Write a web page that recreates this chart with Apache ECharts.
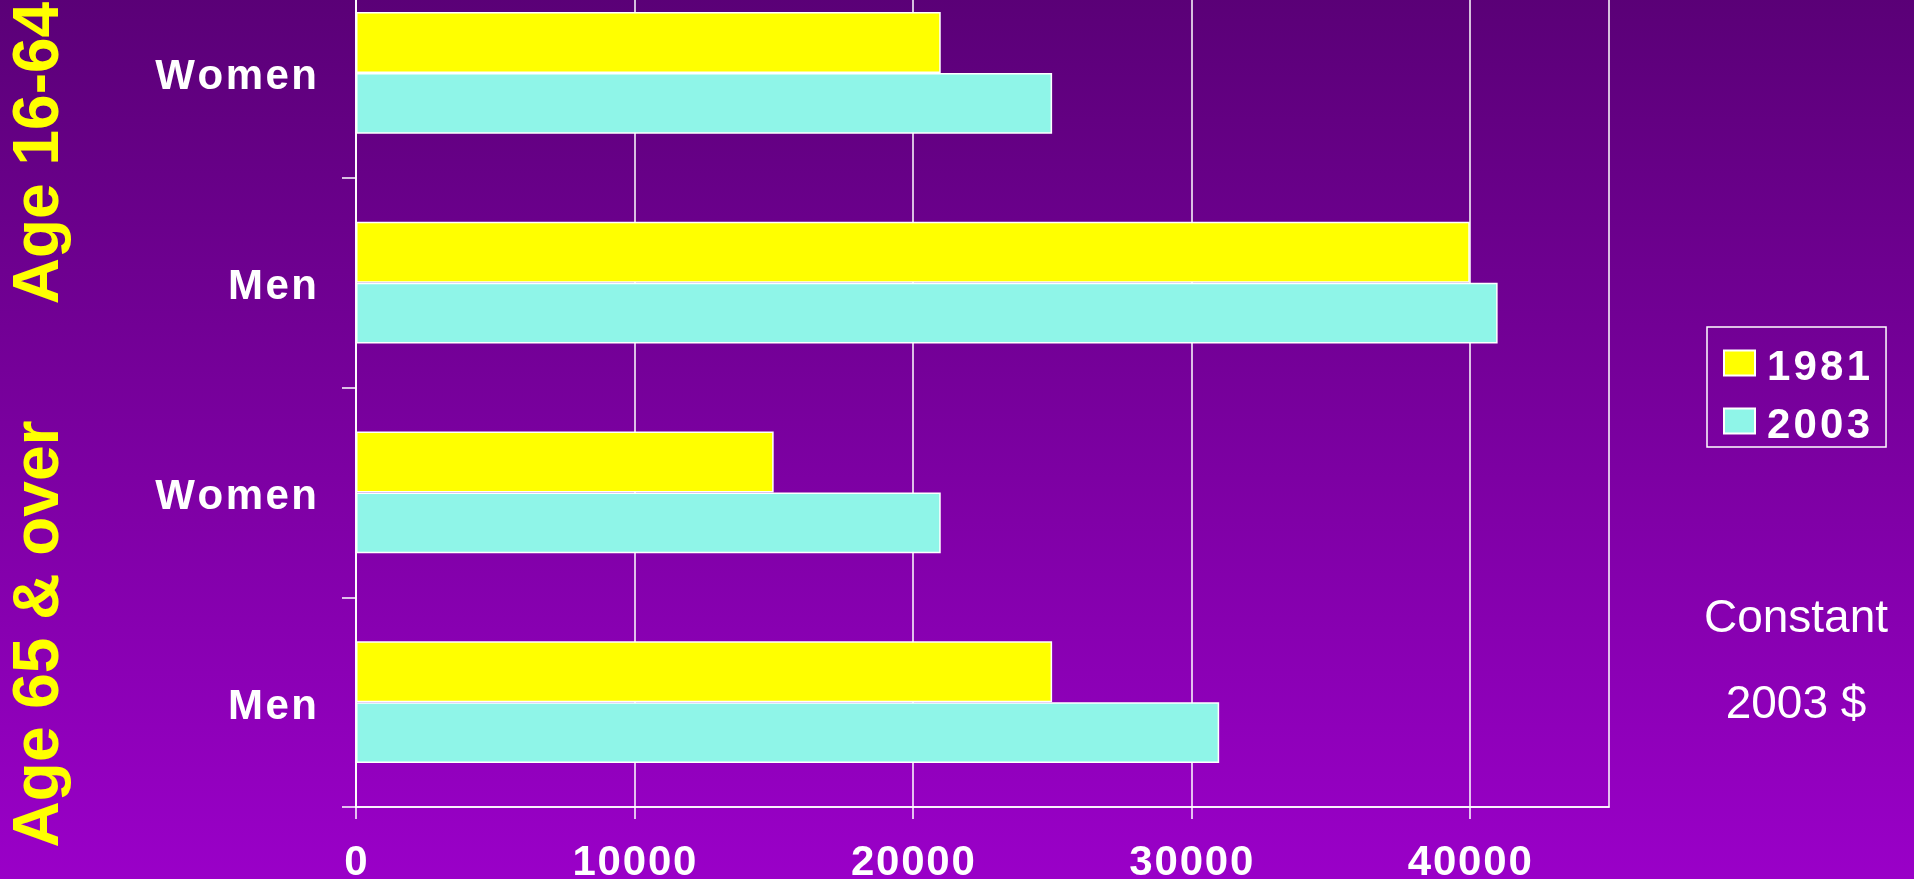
<!DOCTYPE html>
<html>
<head>
<meta charset="utf-8">
<script src="https://cdn.jsdelivr.net/npm/echarts@6/dist/echarts.min.js"></script>
<style>
  html, body { margin: 0; padding: 0; background: #7a00a0; overflow: hidden; width: 1914px; height: 879px; }
  /* the plot area starts above the visible page, as in the reference */
  #chart { width: 1914px; height: 911px; position: absolute; left: 0; top: -32px; }
</style>
</head>
<body>
<div id="chart"></div>
<script>
// Categories bottom → top
const categories = ['Men', 'Women', 'Men', 'Women'];
const groupLabels = ['Age 65 & over', 'Age 16-64'];
const seriesNames = ['1981', '2003'];
const values1981 = [25000, 15000, 40000, 21000];
const values2003 = [31000, 21000, 41000, 25000];
const xTickValues = [0, 10000, 20000, 30000, 40000];
const noteLines = ['Constant', '2003 $'];

const FONT = "'Liberation Sans', Arial, sans-serif";
const OFF = 32; // chart canvas offset above the page
const chart = echarts.init(document.getElementById('chart'), null, { renderer: 'canvas' });

// letter-spaced labels via rich text tokens
function spaced(str) {
  const chars = Array.from(String(str));
  return chars.map((c, i) => (i < chars.length - 1 ? '{s|' + c + '}' : '{e|' + c + '}')).join('');
}
function spacedRich(size, gap) {
  const base = { color: '#ffffff', fontFamily: FONT, fontWeight: 'bold', fontSize: size, lineHeight: size + 4 };
  return { s: Object.assign({ padding: [0, gap, 0, 0] }, base), e: Object.assign({}, base) };
}

const option = {
  backgroundColor: {
    type: 'linear', x: 0, y: 0, x2: 0, y2: 1,
    colorStops: [
      { offset: 0, color: '#580074' },
      { offset: 1, color: '#9a00c8' }
    ]
  },
  animation: false,
  grid: { left: 356, right: 305, top: 0, bottom: 72, show: true,
          outerBoundsMode: 'none', containLabel: false,
          borderColor: '#ffffff', borderWidth: 1.5, backgroundColor: 'transparent' },
  legend: {
    orient: 'vertical',
    left: 1707, top: 327 + OFF,
    data: seriesNames,
    icon: 'rect',
    itemWidth: 31, itemHeight: 25,
    itemGap: 16,
    padding: [20, 16, 0, 16],
    borderColor: '#ffffff', borderWidth: 1.5,
    formatter: name => spaced(name),
    textStyle: { color: '#ffffff', padding: [10, 0, 0, 7], rich: spacedRich(42, 3.2) }
  },
  xAxis: {
    type: 'value',
    min: 0, max: 45000, interval: 10000,
    axisLine: { show: true, lineStyle: { color: '#ffffff', width: 1.5 } },
    axisTick: { show: true, length: 12, customValues: xTickValues, lineStyle: { color: '#ffffff', width: 1.5 } },
    axisLabel: {
      customValues: xTickValues,
      formatter: v => spaced(v),
      rich: spacedRich(42, 1.8),
      verticalAlign: 'middle',
      padding: [10, 0, 0, 0],
      margin: 51
    },
    splitLine: { show: true, lineStyle: { color: '#ffffff', width: 1.5 } }
  },
  yAxis: {
    type: 'category',
    data: categories,
    axisLine: { show: true, lineStyle: { color: '#ffffff', width: 1.5 } },
    axisTick: { show: true, length: 14, lineStyle: { color: '#ffffff', width: 1.5 } },
    axisLabel: {
      margin: 39,
      padding: [10, 0, 0, 0],
      formatter: v => spaced(v),
      rich: spacedRich(42, 2.5)
    },
    splitLine: { show: false }
  },
  series: [
    {
      name: seriesNames[0], type: 'bar', data: values1981,
      barGap: '0%', barCategoryGap: '42%',
      itemStyle: { color: '#ffff00', borderColor: '#ffffff', borderWidth: 1.5 }
    },
    {
      name: seriesNames[1], type: 'bar', data: values2003,
      barGap: '0%', barCategoryGap: '42%',
      itemStyle: { color: '#8ff5e8', borderColor: '#ffffff', borderWidth: 1.5 }
    }
  ],
  graphic: [
    {
      type: 'text', x: 40, y: 634 + OFF, rotation: Math.PI / 2,
      style: { text: groupLabels[0], fill: '#ffff00', font: 'bold 64px ' + FONT,
               textAlign: 'center', textVerticalAlign: 'middle', align: 'center', verticalAlign: 'middle' }
    },
    {
      type: 'text', x: 40, y: 153 + OFF, rotation: Math.PI / 2,
      style: { text: groupLabels[1], fill: '#ffff00', font: 'bold 64px ' + FONT,
               textAlign: 'center', textVerticalAlign: 'middle', align: 'center', verticalAlign: 'middle' }
    },
    {
      type: 'text', x: 1796, y: 619 + OFF,
      style: { text: noteLines[0], fill: '#ffffff', font: '46px ' + FONT,
               textAlign: 'center', textVerticalAlign: 'middle', align: 'center', verticalAlign: 'middle' }
    },
    {
      type: 'text', x: 1796, y: 705 + OFF,
      style: { text: noteLines[1], fill: '#ffffff', font: '46px ' + FONT,
               textAlign: 'center', textVerticalAlign: 'middle', align: 'center', verticalAlign: 'middle' }
    }
  ]
};
chart.setOption(option);
</script>
</body>
</html>
